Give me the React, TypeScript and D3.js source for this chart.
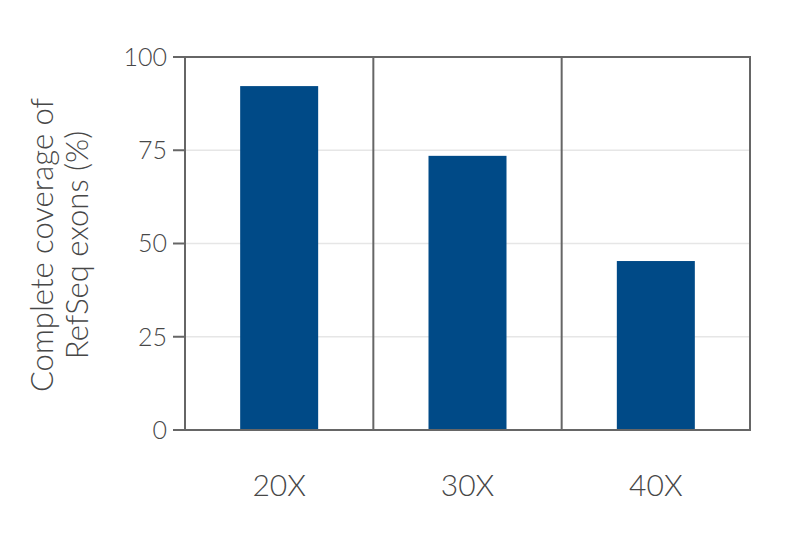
import React from "react";
import * as d3 from "d3";

const categories = ["20X", "30X", "40X"];
const values = [92.2, 73.5, 45.3];
const yTicks = [0, 25, 50, 75, 100];

export default function App() {
  const W = 800, H = 542;
  const left = 185, right = 750, top = 57, bottom = 430;
  const x = d3.scaleBand<string>().domain(categories).range([left, right]).paddingInner(0).paddingOuter(0);
  const y = d3.scaleLinear().domain([0, 100]).range([bottom, top]);
  const barW = 78;
  const font = "Lato, 'Open Sans', sans-serif";
  const axisColor = "#666";
  const textColor = "#474747";
  return (
    <svg width={W} height={H} style={{ position: "absolute", left: 0, top: 0, background: "#fff" }}>
      {yTicks.filter(t => t > 0 && t < 100).map(t => (
        <line key={"g" + t} x1={left} x2={right} y1={y(t)} y2={y(t)} stroke="#e6e6e6" strokeWidth={1.5} />
      ))}
      {categories.map((c, i) => (
        <rect key={c} x={(x(c) as number) + (x.bandwidth() - barW) / 2} y={y(values[i])} width={barW} height={y(0) - y(values[i])} fill="#004a87" />
      ))}
      {categories.slice(1).map(c => (
        <line key={"d" + c} x1={x(c)} x2={x(c)} y1={top} y2={bottom} stroke={axisColor} strokeWidth={2} />
      ))}
      <rect x={left} y={top} width={right - left} height={bottom - top} fill="none" stroke={axisColor} strokeWidth={2} />
      {yTicks.map(t => (
        <g key={"t" + t}>
          <line x1={left - 12} x2={left} y1={y(t)} y2={y(t)} stroke={axisColor} strokeWidth={2} />
          <text x={167} y={y(t)} dy="0.35em" textAnchor="end" fontFamily={font} fontWeight={300} fontSize={25} fill={textColor}>{t}</text>
        </g>
      ))}
      {categories.map(c => (
        <text key={"x" + c} x={(x(c) as number) + x.bandwidth() / 2} y={485} dy="0.35em" textAnchor="middle" fontFamily={font} fontWeight={300} fontSize={30} fill={textColor}>{c}</text>
      ))}
      <g transform="translate(0,245) rotate(-90)">
        <text x={0} y={53} textAnchor="middle" fontFamily={font} fontWeight={300} fontSize={31} fill={textColor}>Complete coverage of</text>
        <text x={0} y={88} textAnchor="middle" fontFamily={font} fontWeight={300} fontSize={31} fill={textColor}>RefSeq exons (%)</text>
      </g>
    </svg>
  );
}
